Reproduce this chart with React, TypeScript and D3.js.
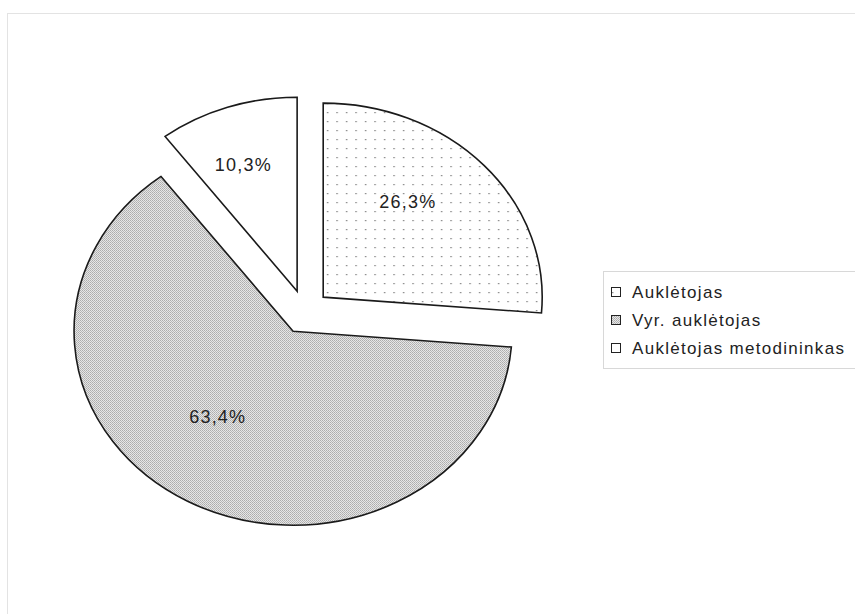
import React from "react";
import * as d3 from "d3";

const categories = ["Auklėtojas", "Vyr. auklėtojas", "Auklėtojas metodininkas"];
const values = [26.3, 63.4, 10.3];
const labels = ["26,3%", "63,4%", "10,3%"];
const fills = ["url(#dots)", "url(#stipple)", "#ffffff"];

const W = 855;
const H = 614;
const cx = 305;
const cy = 312;
const rx = 219;
const ry = 194;
const explode = 0.113;
const labelFrac = 0.6;
const labelShiftX = -12;
const labelShiftY = -16;

function slicePath(a0: number, a1: number, ox: number, oy: number) {
  const p0x = ox + rx * Math.sin(a0);
  const p0y = oy - ry * Math.cos(a0);
  const p1x = ox + rx * Math.sin(a1);
  const p1y = oy - ry * Math.cos(a1);
  const large = a1 - a0 > Math.PI ? 1 : 0;
  return `M${ox},${oy}L${p0x},${p0y}A${rx},${ry} 0 ${large} 1 ${p1x},${p1y}Z`;
}

export default function App() {
  const pie = d3.pie<number>().sort(null).value((d) => d);
  const arcs = pie(values);
  const legendY = d3.scalePoint<string>().domain(categories).range([292, 348]);

  return (
    <svg
      width={W}
      height={H}
      style={{ position: "absolute", left: 0, top: 0, background: "#fff" }}
      fontFamily="'Liberation Sans', Arial, sans-serif"
    >
      <defs>
        <pattern id="dots" width={9.5} height={9} patternUnits="userSpaceOnUse">
          <rect width={9.5} height={9} fill="#fff" />
          <rect x={4} y={4} width={1.2} height={1.2} fill="#666" />
        </pattern>
        <pattern id="stipple" width={2} height={2} patternUnits="userSpaceOnUse">
          <rect width={2} height={2} fill="#e6e6e6" />
          <rect width={1} height={1} fill="#acacac" />
          <rect x={1} y={1} width={1} height={1} fill="#b8b8b8" />
        </pattern>
      </defs>
      <rect x={7.5} y={13.5} width={W + 10} height={H + 10} fill="none" stroke="#e3e3e3" strokeWidth={1} />
      {arcs.map((a, i) => {
        const mid = (a.startAngle + a.endAngle) / 2;
        const ox = cx + explode * rx * Math.sin(mid);
        const oy = cy - explode * ry * Math.cos(mid);
        const lx = ox + labelFrac * rx * Math.sin(mid) + labelShiftX;
        const ly = oy - labelFrac * ry * Math.cos(mid) + labelShiftY;
        return (
          <g key={i}>
            <path
              d={slicePath(a.startAngle, a.endAngle, ox, oy)}
              fill={fills[i]}
              stroke="#1a1a1a"
              strokeWidth={1.6}
              strokeLinejoin="miter"
            />
            <text
              x={lx}
              y={ly}
              textAnchor="middle"
              dominantBaseline="central"
              fontSize={18}
              letterSpacing={1.2}
              fill="#222"
            >
              {labels[i]}
            </text>
          </g>
        );
      })}
      <rect x={603.5} y={271.5} width={260} height={97} fill="none" stroke="#d8d8d8" strokeWidth={1} />
      {categories.map((c, i) => {
        const y = legendY(c) as number;
        return (
          <g key={c}>
            <rect x={611.5} y={y - 4.5} width={9} height={9} fill={fills[i]} stroke="#222" strokeWidth={1} />
            <text x={632} y={y} dominantBaseline="central" fontSize={17} letterSpacing={1.3} fill="#222">
              {c}
            </text>
          </g>
        );
      })}
    </svg>
  );
}
